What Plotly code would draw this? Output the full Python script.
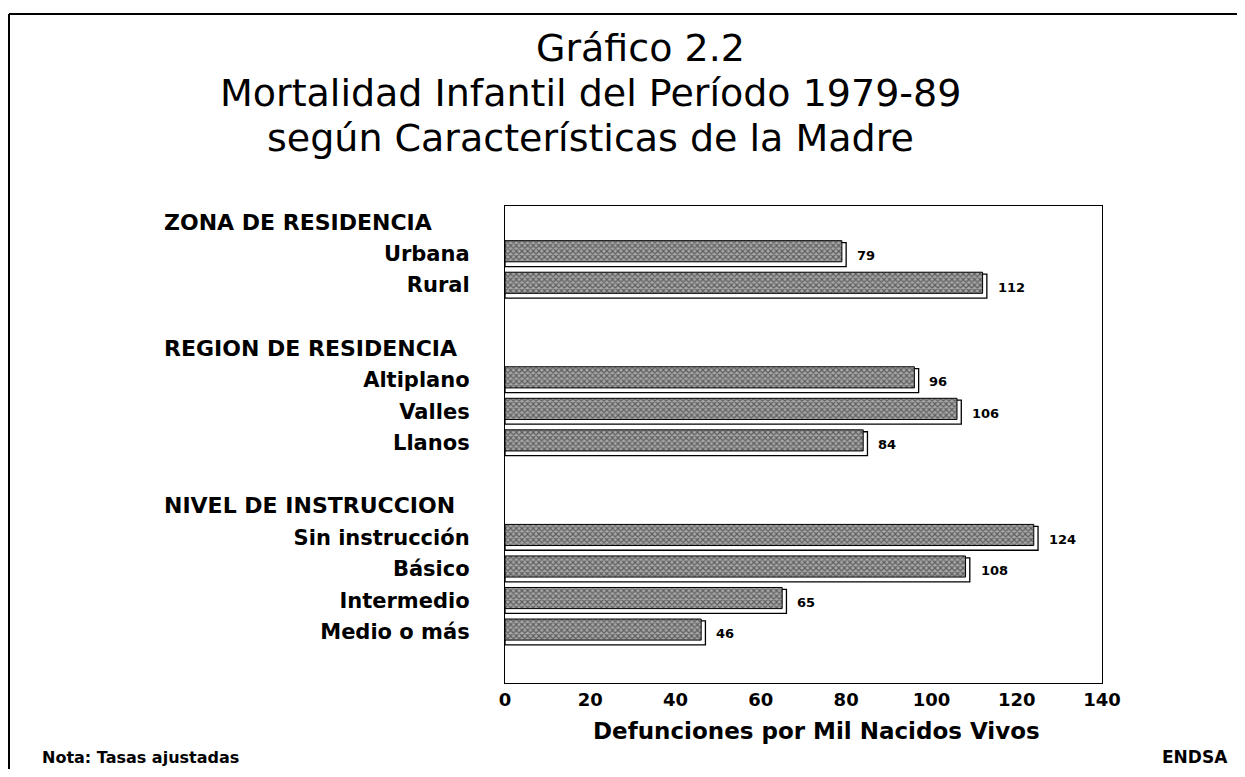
import plotly.graph_objects as go

# ---- data ----
rows = ["ZONA DE RESIDENCIA", "Urbana", "Rural", "_gap1",
        "REGION DE RESIDENCIA", "Altiplano", "Valles", "Llanos", "_gap2",
        "NIVEL DE INSTRUCCION", "Sin instrucción", "Básico", "Intermedio", "Medio o más"]
headers = ["ZONA DE RESIDENCIA", "REGION DE RESIDENCIA", "NIVEL DE INSTRUCCION"]
categories = ["Urbana", "Rural", "Altiplano", "Valles", "Llanos",
              "Sin instrucción", "Básico", "Intermedio", "Medio o más"]
values = [79, 112, 96, 106, 84, 124, 108, 65, 46]
x_ticks = [0, 20, 40, 60, 80, 100, 120, 140]

title_lines = ["Gráfico 2.2",
               "Mortalidad Infantil del Período 1979-89",
               "según Características de la Madre"]
x_title = "Defunciones por Mil Nacidos Vivos"
note_left = "Nota: Tasas ajustadas"
note_right = "ENDSA"

# ---- layout geometry (reference pixels; page has an 8px body margin) ----
O = 8
W, H = 1245 - 2 * O, 777 - 2 * O
L, R, T, B = 505 - O, 1102 - O, 206 - O, 683 - O
PW, PH = R - L, B - T

def px(xp):
    return (xp - O - L) / PW

def py(yp):
    return (B - (yp - O)) / PH

FONT = "DejaVu Sans"

fig = go.Figure()

# shadow / side of the 3D bars
fig.add_trace(go.Bar(
    y=categories, x=[v + 1 for v in values], orientation="h",
    width=0.76, offset=-0.35,
    marker=dict(color="white", line=dict(color="black", width=1.3)),
    hoverinfo="skip", showlegend=False,
))
# face of the bars (cross-hatched)
fig.add_trace(go.Bar(
    y=categories, x=values, orientation="h",
    width=0.67, offset=-0.41,
    marker=dict(color="#8f8f8f",
                line=dict(color="black", width=1),
                pattern=dict(shape="x", size=4, solidity=0.5,
                             fgcolor="#111111", bgcolor="#a8a8a8")),
    showlegend=False,
))

annotations = []
# value labels
for c, v in zip(categories, values):
    annotations.append(dict(x=v, y=c, xref="x", yref="y", text=f"<b>{v}</b>",
                            showarrow=False, xanchor="left", yanchor="middle",
                            xshift=13, yshift=-2,
                            font=dict(family=FONT, size=13, color="black")))
# group headers
for h in headers:
    annotations.append(dict(x=px(162), y=h, xref="paper", yref="y", text=f"<b>{h}</b>",
                            showarrow=False, xanchor="left", yanchor="middle",
                            font=dict(family=FONT, size=22, color="black")))
# title lines
for txt, xc, yc in zip(title_lines, [640, 590, 590], [48, 93, 138]):
    annotations.append(dict(x=px(xc), y=py(yc), xref="paper", yref="paper", text=txt,
                            showarrow=False, xanchor="center", yanchor="middle",
                            font=dict(family=FONT, size=38, color="black")))
# x axis title
annotations.append(dict(x=px(816), y=py(731), xref="paper", yref="paper",
                        text=f"<b>{x_title}</b>", showarrow=False,
                        xanchor="center", yanchor="middle",
                        font=dict(family=FONT, size=23, color="black")))
# notes
annotations.append(dict(x=px(40), y=py(757), xref="paper", yref="paper",
                        text=f"<b>{note_left}</b>", showarrow=False,
                        xanchor="left", yanchor="middle",
                        font=dict(family=FONT, size=16, color="black")))
annotations.append(dict(x=px(1230), y=py(757), xref="paper", yref="paper",
                        text=f"<b>{note_right}</b>", showarrow=False,
                        xanchor="right", yanchor="middle",
                        font=dict(family=FONT, size=17, color="black")))

shapes = [
    # outer frame (top and left)
    dict(type="line", xref="paper", yref="paper", x0=px(9), x1=px(1250), y0=py(14), y1=py(14),
         line=dict(color="black", width=2)),
    dict(type="line", xref="paper", yref="paper", x0=px(9), x1=px(9), y0=py(14), y1=py(790),
         line=dict(color="black", width=2)),
]

tick_text = [("<b>" + r + "</b>") if r in categories else "" for r in rows]

fig.update_layout(
    width=W, height=H,
    margin=dict(l=L, r=W - R, t=T, b=H - B),
    paper_bgcolor="white", plot_bgcolor="white",
    barmode="overlay",
    annotations=annotations, shapes=shapes,
    font=dict(family=FONT, color="black"),
    xaxis=dict(range=[0, 140], tickvals=x_ticks,
               ticktext=[f"<b>{t}</b>" for t in x_ticks],
               showgrid=False, zeroline=False, showline=True, mirror=True,
               linecolor="black", linewidth=1.3, ticks="",
               tickfont=dict(family=FONT, size=18, color="black")),
    yaxis=dict(type="category", categoryorder="array", categoryarray=rows,
               range=[len(rows) - 1 + 1.62, -0.51],
               tickvals=rows, ticktext=tick_text,
               showgrid=False, zeroline=False, showline=True, mirror=True,
               linecolor="black", linewidth=1.3, ticks="",
               ticklabelstandoff=30,
               tickfont=dict(family=FONT, size=21, color="black")),
)

fig.write_html("out.html")
